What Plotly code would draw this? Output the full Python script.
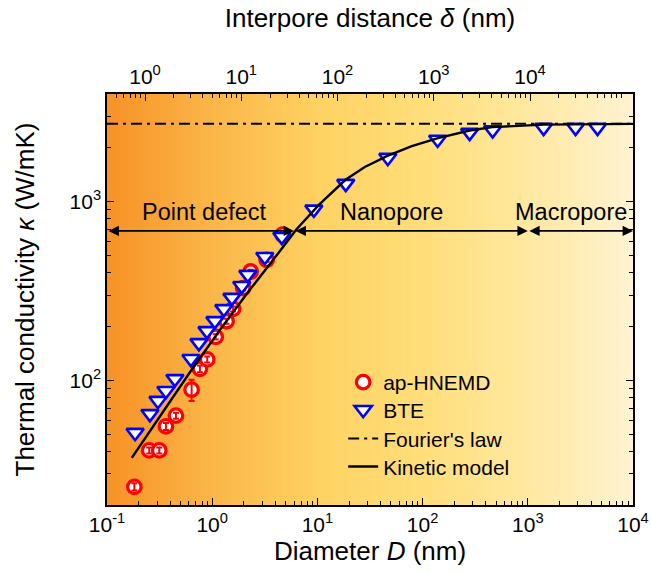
import math
import plotly.graph_objects as go

# ---------------- data ----------------
hnemd_D = [0.182, 0.252, 0.314, 0.363, 0.452, 0.637, 0.764, 0.897, 1.08, 1.37, 1.58, 1.97, 2.32, 3.29, 4.67]
hnemd_kappa = [25.4, 40.6, 40.6, 55.3, 63.5, 88.7, 116, 131, 175, 214, 251, 328, 406, 472, 652]
hnemd_err = [1.2, 1.6, 1.6, 2.5, 2.5, 12, 5, 5, 6, 7, 8, 10, 10, 12, 15]

bte_D = [0.185, 0.256, 0.305, 0.363, 0.442, 0.628, 0.748, 0.891, 1.06, 1.29, 1.54, 1.91, 2.18,
         3.16, 4.59, 9.25, 18.6, 46.7, 139, 280, 463, 1413, 2844, 4600]
bte_kappa = [51, 65, 77, 87.5, 102, 132, 162, 189, 215, 251, 290, 338, 390,
             491, 636, 904, 1259, 1758, 2223, 2427, 2510, 2590, 2590, 2590]

kin_D = [0.172, 0.319, 0.614, 1.18, 2.28, 4.39, 6.33, 10.5, 18.5, 28.2, 46.3, 78.9, 140, 280, 460, 1420, 3860, 10000]
kin_kappa = [36.9, 63.5, 111, 191, 321, 527, 700, 967, 1322, 1560, 1800, 2040, 2261, 2494, 2606, 2690, 2712, 2716]

fourier_D = [0.1, 10000]
fourier_kappa = 2717

region_names = ["Point defect", "Nanopore", "Macropore"]
region_bounds = [0.1, 6, 1000, 10000]
region_label_D = [0.853, 51, 2600]
region_label_kappa = 875
region_arrow_kappa = 685

bottom_ticks = [0.1, 1, 10, 100, 1000, 10000]
bottom_ticktext = ["10<sup>-1</sup>", "10<sup>0</sup>", "10<sup>1</sup>", "10<sup>2</sup>", "10<sup>3</sup>", "10<sup>4</sup>"]
top_ticks = [1, 10, 100, 1000, 10000]
top_ticktext = ["10<sup>0</sup>", "10<sup>1</sup>", "10<sup>2</sup>", "10<sup>3</sup>", "10<sup>4</sup>"]
y_ticks = [100, 1000]
y_ticktext = ["10<sup>2</sup>", "10<sup>3</sup>"]

# ---------------- styling ----------------
FONT = "Liberation Sans, Arial, sans-serif"
x_range = [-1, 4]
top_range = [-0.395, 5.07]
y_range = [math.log10(20.1), math.log10(3990)]


def minor_vals(lo, hi):
    out = []
    for e in range(int(math.floor(lo)) - 1, int(math.ceil(hi)) + 1):
        for k in range(2, 10):
            v = k * 10 ** e
            if 10 ** lo <= v <= 10 ** hi:
                out.append(v)
    return out


fig = go.Figure()

fig.add_trace(go.Scatter(
    x=hnemd_D, y=hnemd_kappa, mode="markers", name="ap-HNEMD", legend="legend",
    marker=dict(symbol="circle", size=13.5, color="white", line=dict(color="#FF0000", width=3.3)),
))
fig.add_trace(go.Scatter(
    x=hnemd_D, y=hnemd_kappa, mode="markers", showlegend=False, hoverinfo="skip",
    marker=dict(size=1, color="rgba(0,0,0,0)"),
    error_y=dict(type="data", array=hnemd_err, visible=True, color="#FF0000", thickness=2, width=3),
))
fig.add_trace(go.Scatter(
    x=bte_D, y=bte_kappa, mode="markers", name="BTE", legend="legend2",
    marker=dict(symbol="triangle-down", size=15, color="white", line=dict(color="#0000FF", width=2.6)),
))
fig.add_trace(go.Scatter(
    x=fourier_D, y=[fourier_kappa] * len(fourier_D), mode="lines", name="Fourier's law", legend="legend3",
    line=dict(color="black", width=2, dash="11px,5px,3px,5px"),
))
fig.add_trace(go.Scatter(
    x=kin_D, y=kin_kappa, mode="lines", name="Kinetic model", legend="legend4",
    line=dict(color="black", width=2.4),
))
# dummy trace so the top axis is bound
fig.add_trace(go.Scatter(x=[], y=[], xaxis="x2", yaxis="y", showlegend=False, hoverinfo="skip"))

# background gradient (orange -> cream)
stops = [(0.0, (247, 146, 38)), (0.2, (251, 182, 72)), (0.4, (254, 210, 98)),
         (0.6, (255, 222, 122)), (0.8, (255, 232, 160)), (1.0, (255, 243, 210))]


def grad(t):
    for (t0, c0), (t1, c1) in zip(stops[:-1], stops[1:]):
        if t0 <= t <= t1:
            f = (t - t0) / (t1 - t0)
            return "rgb(%d,%d,%d)" % tuple(round(a + (b - a) * f) for a, b in zip(c0, c1))
    return "rgb(%d,%d,%d)" % stops[-1][1]


N = 130
shapes = []
for i in range(N):
    shapes.append(dict(type="rect", xref="paper", yref="paper", x0=i / N, x1=min(1, (i + 1.6) / N),
                       y0=0, y1=1, fillcolor=grad((i + 0.5) / N), line=dict(width=0), layer="below"))

annotations = []
for a, b in zip(region_bounds[:-1], region_bounds[1:]):
    annotations.append(dict(
        x=math.log10(b), y=math.log10(region_arrow_kappa), ax=math.log10(a), ay=math.log10(region_arrow_kappa),
        xref="x", yref="y", axref="x", ayref="y", text="", showarrow=True,
        arrowhead=2, arrowside="end+start", arrowsize=1.15, arrowwidth=1.8, arrowcolor="black",
        standoff=0, startstandoff=0,
    ))
for name, d in zip(region_names, region_label_D):
    annotations.append(dict(
        x=math.log10(d), y=math.log10(region_label_kappa), xref="x", yref="y", text=name,
        showarrow=False, font=dict(family=FONT, size=23.5, color="black"), xanchor="center", yanchor="middle",
    ))

tickfont = dict(family=FONT, size=21, color="black")
titlefont = dict(family=FONT, size=26, color="black")
legfont = dict(family=FONT, size=21, color="black")

# legend item centres (paper y)
leg_y = [0.298, 0.231, 0.161, 0.093]


def leg(y):
    return dict(x=0.449, y=y, xanchor="left", yanchor="middle", bgcolor="rgba(0,0,0,0)",
                font=legfont, borderwidth=0)


fig.update_layout(
    width=651, height=572,
    margin=dict(l=107, r=18, t=94, b=67),
    paper_bgcolor="white", plot_bgcolor="white",
    shapes=shapes, annotations=annotations,
    showlegend=True,
    legend=leg(leg_y[0]), legend2=leg(leg_y[1]), legend3=leg(leg_y[2]), legend4=leg(leg_y[3]),
    xaxis=dict(
        type="log", range=x_range, showgrid=False, zeroline=False, automargin=False,
        showline=True, linecolor="black", linewidth=1.5, mirror=False,
        ticks="inside", ticklen=7, tickwidth=1.4, tickcolor="black",
        tickmode="array", tickvals=bottom_ticks, ticktext=bottom_ticktext, tickfont=tickfont,
        minor=dict(ticks="inside", ticklen=4, tickwidth=1.2, tickcolor="black", tickmode="array",
                   tickvals=minor_vals(*x_range), showgrid=False),
        title=dict(text="Diameter <i>D</i> (nm)", font=titlefont, standoff=4),
    ),
    xaxis2=dict(
        type="log", range=top_range, overlaying="x", side="top", anchor="y", showgrid=False, zeroline=False,
        automargin=False, showline=True, linecolor="black", linewidth=1.5,
        ticks="inside", ticklen=7, tickwidth=1.4, tickcolor="black",
        tickmode="array", tickvals=top_ticks, ticktext=top_ticktext, tickfont=tickfont,
        minor=dict(ticks="inside", ticklen=4, tickwidth=1.2, tickcolor="black", tickmode="array",
                   tickvals=minor_vals(*top_range), showgrid=False),
        title=dict(text="Interpore distance <i>δ</i> (nm)", font=titlefont, standoff=27),
    ),
    yaxis=dict(
        type="log", range=y_range, showgrid=False, zeroline=False, automargin=False,
        showline=True, linecolor="black", linewidth=1.5, mirror="ticks",
        ticks="inside", ticklen=7, tickwidth=1.4, tickcolor="black",
        tickmode="array", tickvals=y_ticks, ticktext=y_ticktext, tickfont=tickfont,
        minor=dict(ticks="inside", ticklen=4, tickwidth=1.2, tickcolor="black", tickmode="array",
                   tickvals=minor_vals(*y_range), showgrid=False),
        title=dict(text="Thermal conductivity <i>κ</i> (W/mK)", font=titlefont, standoff=27),
    ),
)

fig.write_html("out.html")
